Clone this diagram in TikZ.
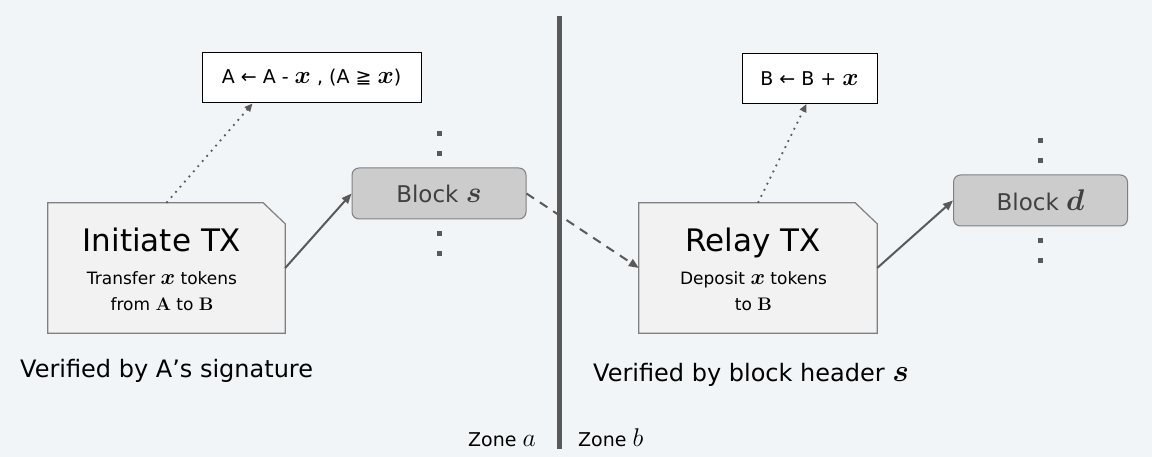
\RequirePackage{fix-cm}
\documentclass[tikz,border=0pt]{standalone}
\usepackage{amsmath}
\usepackage{amssymb}
\usepackage[no-math]{fontspec}
\setmainfont{DejaVu Sans}
\usetikzlibrary{arrows.meta,calc}
\definecolor{bgcol}{HTML}{F2F5F8}
\definecolor{linecol}{HTML}{595959}
\definecolor{docfill}{HTML}{F2F2F2}
\definecolor{docline}{HTML}{808080}
\definecolor{blockfill}{HTML}{CCCCCC}
\definecolor{blocktext}{HTML}{404040}
% math letters sized to the sans text
\newcommand{\mv}[1]{\scalebox{1.3}{$\boldsymbol{#1}$}}
\newcommand{\mk}[1]{\scalebox{1.07}{$\mathbf{#1}$}}
\newcommand{\mz}[1]{\scalebox{1.35}{$#1$}}

\begin{document}
\begin{tikzpicture}[x=1pt,y=-1pt,>={Triangle[length=10pt,width=8pt]},
    doc/.style={minimum width=237pt,minimum height=130pt,inner sep=0pt},
    docshape/.style={draw=docline,fill=docfill,line width=1.2pt},
    title/.style={anchor=base,inner sep=0pt,font=\fontsize{31}{36}\selectfont},
    sub/.style={anchor=base,inner sep=0pt,font=\fontsize{17}{20}\selectfont},
    block/.style={draw=docline,fill=blockfill,rounded corners=7pt,line width=1pt,inner sep=0pt,
        minimum width=174pt,minimum height=51pt,text=blocktext,font=\fontsize{23}{28}\selectfont},
    note/.style={draw=black,fill=white,line width=1pt,inner sep=0pt,minimum height=50pt,
        font=\fontsize{19}{23}\selectfont},
    caption/.style={anchor=base west,inner sep=0pt,font=\fontsize{24}{28}\selectfont},
    zone/.style={anchor=base west,inner sep=0pt,font=\fontsize{19}{23}\selectfont},
    link/.style={->,draw=linecol,line width=2pt},
    update/.style={-{Triangle[length=8pt,width=7pt]},draw=linecol,line width=1.8pt,
        dash pattern=on 1.8pt off 5pt}]
    \useasboundingbox (0,0) rectangle (1152,457);
    \fill[bgcol] (0,0) rectangle (1152,457);
    % zone border
    \coordinate (zoneTop) at (559.5,16);
    \coordinate (zoneBot) at (559.5,449);
    \draw[linecol,line width=5pt] (zoneTop)--(zoneBot);
    \node[zone] (zoneA) at (468,446) {Zone \mz{a}};
    \node[zone] (zoneB) at (578,446) {Zone \mz{b}};
    % transactions
    \node[doc] (init) at (166.5,268) {};
    \node[doc,minimum width=238pt] (relay) at (758,268) {};
    \foreach \tx in {init,relay}
        \draw[docshape] (\tx.south west)--(\tx.north west)--([xshift=-22pt]\tx.north east)
            --([yshift=-21pt]\tx.north east)--(\tx.south east)--cycle;
    \node[title] (initTitle) at (162,252) {Initiate TX};
    \node[sub] (initLineA) at (162,284) {Transfer \mv{x} tokens};
    \node[sub] (initLineB) at (162,310) {from \mk{A} to \mk{B}};
    \node[title] (relayTitle) at (753,252) {Relay TX};
    \node[sub] (relayLineA) at (753.5,285) {Deposit \mv{x} tokens};
    \node[sub] (relayLineB) at (753.5,311) {to \mk{B}};
    \node[caption] (initBy) at (20,377) {Verified by A’s signature};
    \node[caption] (relayBy) at (593,381) {Verified by block header \mv{s}};
    % blocks
    \node[block] (blockS) at (439,193.5) {Block \mv{s}};
    \node[block] (blockD) at (1040.5,200.5) {Block \mv{d}};
    \foreach \blk in {blockS,blockD}
        \foreach \dy in {-60,-40,40,60}
            \fill[linecol] ($(\blk.center)+(-2.5,\dy-2.5)$) rectangle +(5,5);
    % state updates
    \node[note,minimum width=219pt] (updA) at (311.5,78) {A ← A - \mv{x} , (A ≧ \mv{x})};
    \node[note,minimum width=135pt] (updB) at (809.5,78.5) {B ← B + \mv{x}};
    \draw[update] (init.north)--([xshift=51pt]updA.south west);
    \draw[update] (relay.north)--([xshift=65pt]updB.south west);
    % flow
    \draw[link] (init.east)--(blockS.west);
    \draw[link,dash pattern=on 9pt off 7pt] (blockS.east)--(relay.west);
    \draw[link] (relay.east)--(blockD.west);
\end{tikzpicture}
\end{document}
